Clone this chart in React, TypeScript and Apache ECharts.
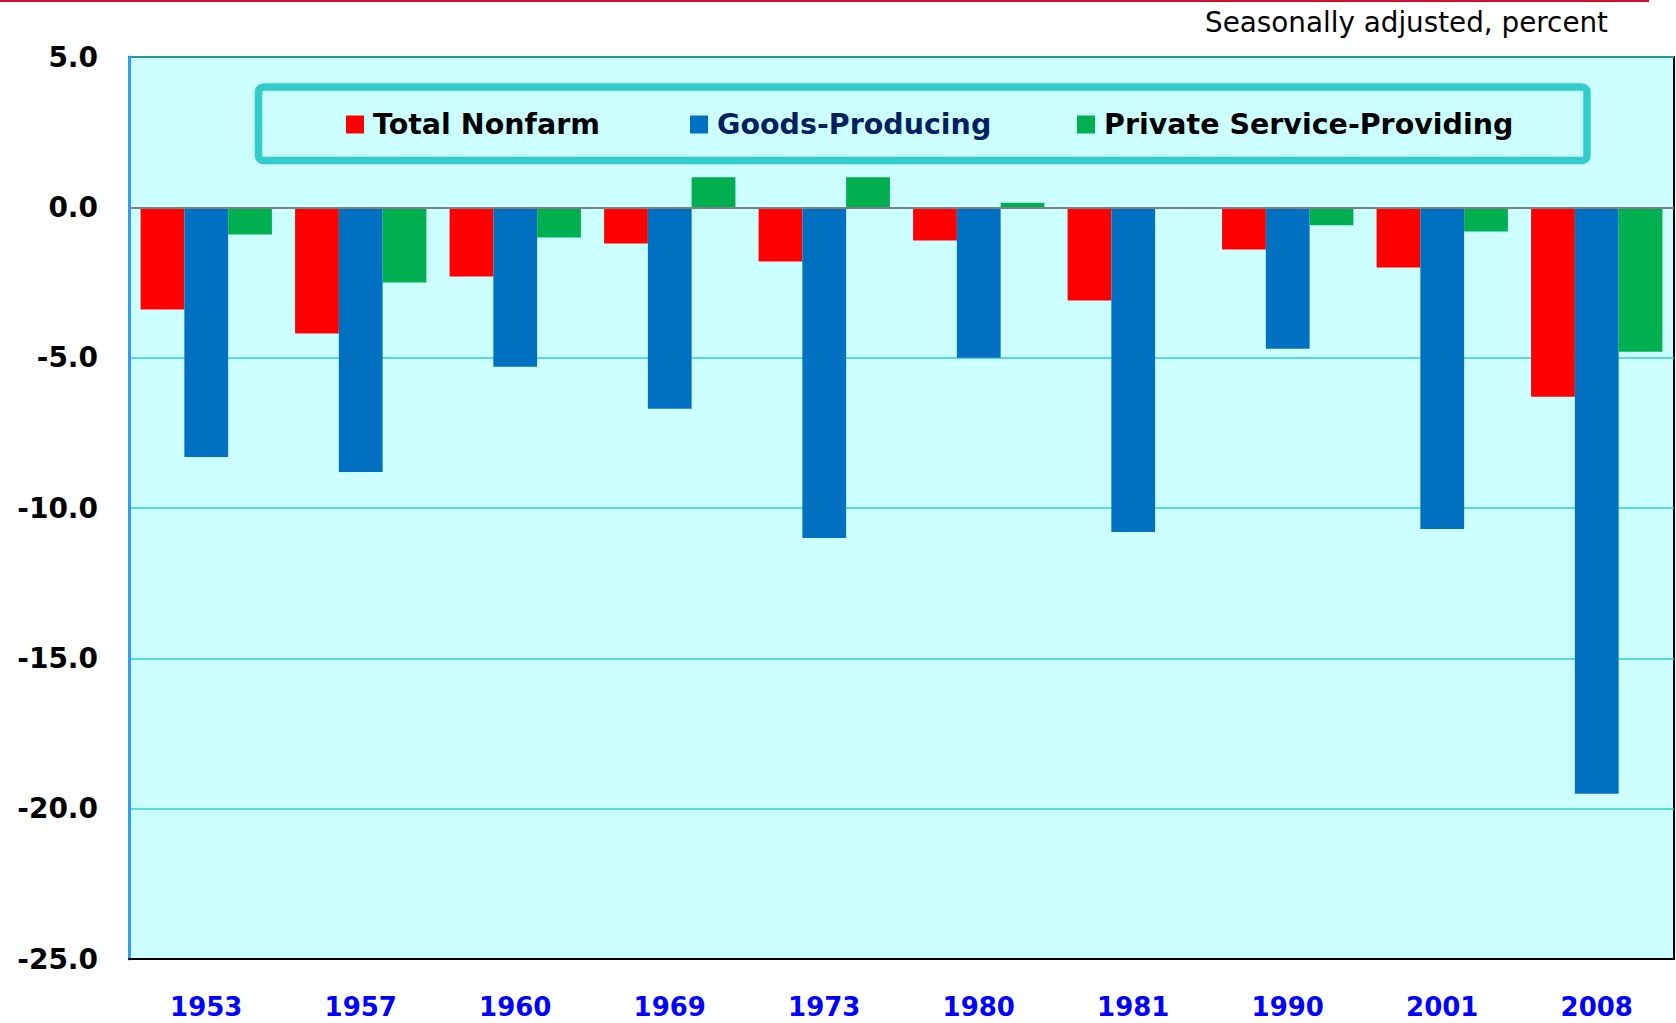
import React, { useEffect, useRef } from "react";
import * as echarts from "echarts";

const categories = ["1953", "1957", "1960", "1969", "1973", "1980", "1981", "1990", "2001", "2008"];
const totalNonfarm = [-3.4, -4.2, -2.3, -1.2, -1.8, -1.1, -3.1, -1.4, -2.0, -6.3];
const goodsProducing = [-8.3, -8.8, -5.3, -6.7, -11.0, -5.0, -10.8, -4.7, -10.7, -19.5];
const privateService = [-0.9, -2.5, -1.0, 1.0, 1.0, 0.15, -0.05, -0.6, -0.8, -4.8];
const seriesNames = ["Total Nonfarm", "Goods-Producing", "Private Service-Providing"];
const seriesColors = ["#ff0000", "#0070c0", "#00b050"];
const legendTextColors = ["#000000", "#002060", "#000000"];
const legendLefts = [346, 690, 1077];
const yMin = -25;
const yMax = 5;
const yInterval = 5;
const subtitle = "Seasonally adjusted, percent";

export default function App() {
  const ref = useRef<HTMLDivElement>(null);
  useEffect(() => {
    if (!ref.current) return;
    const chart = echarts.init(ref.current, null, { renderer: "svg" });
    const values = [totalNonfarm, goodsProducing, privateService];
    const option: any = {
      animation: false,
      grid: {
        left: 129,
        right: 2,
        top: 57,
        bottom: 64,
        show: true,
        backgroundColor: "#ccffff",
        borderColor: "#000000",
        borderWidth: 2,
      },
      legend: seriesNames.map((n, i) => ({
        data: [n],
        left: legendLefts[i],
        top: 110,
        padding: 0,
        icon: "rect",
        itemWidth: 18,
        itemHeight: 18,
        selectedMode: false,
        z: 10,
        textStyle: {
          color: legendTextColors[i],
          fontFamily: "DejaVu Sans",
          fontWeight: "bold",
          fontSize: 28.5,
          lineHeight: 18,
          padding: [0, 0, 0, 4],
        },
      })),
      xAxis: {
        type: "category",
        data: categories,
        axisLine: { show: true, onZero: false, lineStyle: { color: "#000000", width: 2 } },
        axisTick: { show: false },
        axisLabel: {
          color: "#0000ff",
          fontFamily: "DejaVu Sans",
          fontWeight: "bold",
          fontSize: 26,
          margin: 35,
        },
      },
      yAxis: {
        type: "value",
        min: yMin,
        max: yMax,
        interval: yInterval,
        axisLine: { show: true, lineStyle: { color: "#3399ff", width: 3 } },
        axisTick: { show: false },
        splitLine: { show: true, lineStyle: { color: "#33cccc", width: 1.5 } },
        axisLabel: {
          color: "#000000",
          fontFamily: "DejaVu Sans",
          fontWeight: "bold",
          fontSize: 28,
          margin: 31,
          formatter: (v: number) => v.toFixed(1),
        },
      },
      series: seriesNames.map((n, i) => ({
        name: n,
        type: "bar",
        data: values[i],
        barGap: "0%",
        barCategoryGap: "15%",
        itemStyle: { color: seriesColors[i] },
        markLine:
          i === 0
            ? {
                silent: true,
                symbol: "none",
                label: { show: false },
                lineStyle: { color: "#808080", width: 2, type: "solid" },
                data: [{ yAxis: 0 }],
                z: 5,
              }
            : undefined,
      })),
      graphic: [
        {
          type: "line",
          shape: { x1: 0, y1: 1, x2: 1649, y2: 1 },
          style: { stroke: "#d0102a", lineWidth: 2 },
          z: 10,
        },
        {
          type: "rect",
          shape: { x: 258.5, y: 87, width: 1328.5, height: 73.5, r: 5 },
          style: { fill: "#ccffff", stroke: "#33cccc", lineWidth: 7.5 },
          z: 3,
        },
        {
          type: "text",
          style: {
            text: subtitle,
            x: 1608,
            y: 22,
            align: "right",
            verticalAlign: "middle",
            fill: "#000000",
            fontFamily: "DejaVu Sans",
            fontSize: 27.8,
          },
          z: 10,
        },
      ],
    };
    chart.setOption(option);
    return () => chart.dispose();
  }, []);
  return (
    <div
      ref={ref}
      style={{ position: "fixed", left: 0, top: 0, width: 1676, height: 1023, background: "#ffffff" }}
    />
  );
}
